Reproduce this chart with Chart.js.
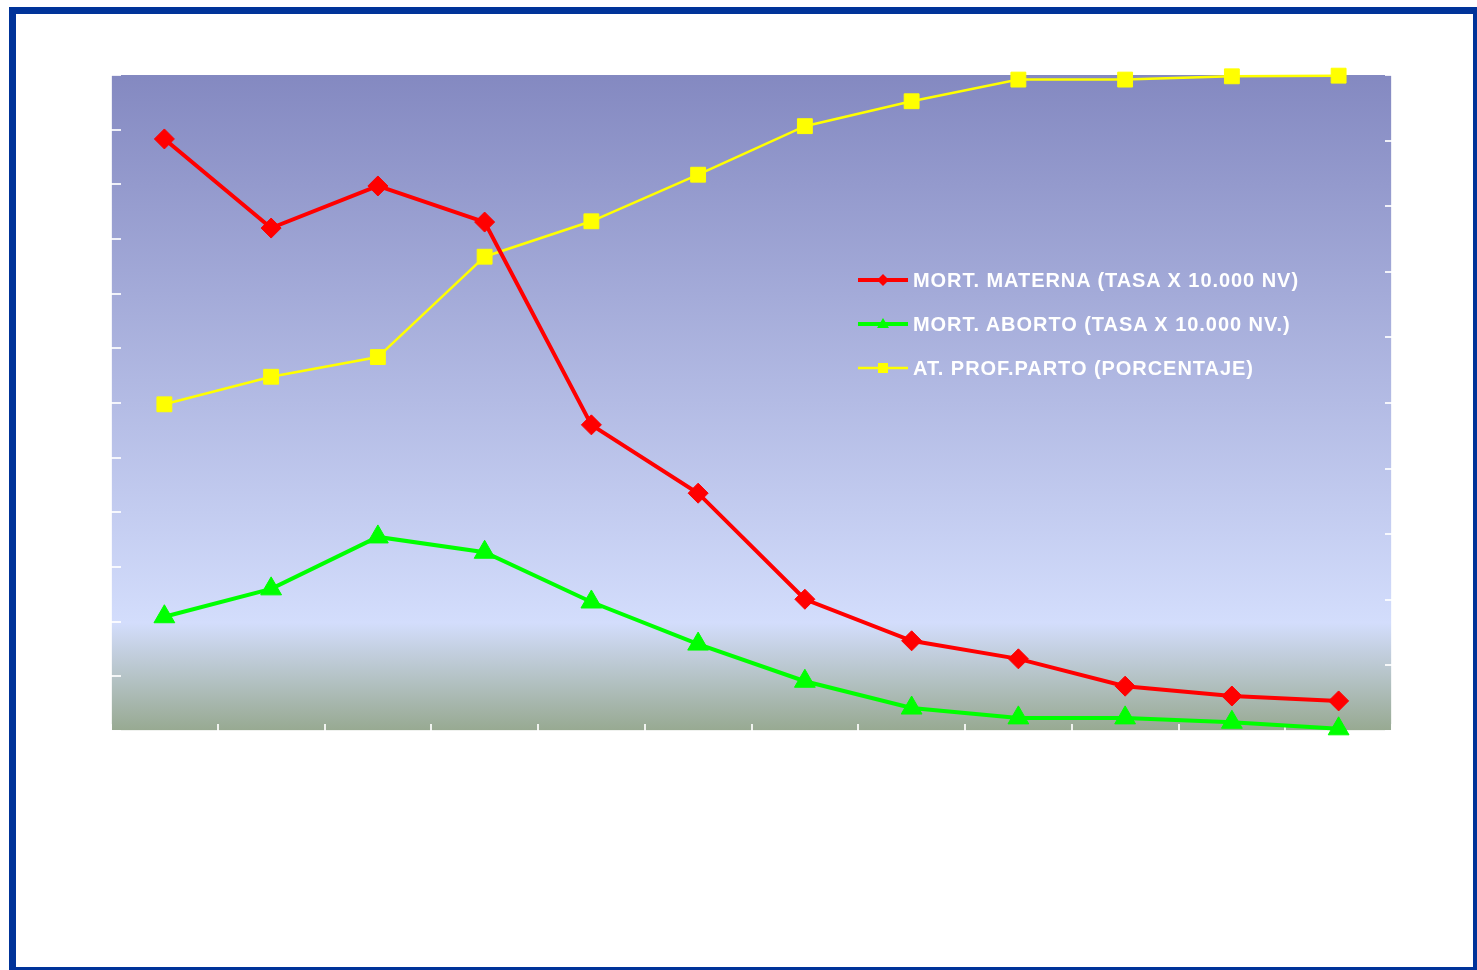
<!DOCTYPE html>
<html>
<head>
<meta charset="utf-8">
<script src="https://cdn.jsdelivr.net/npm/chart.js@4.4.1/dist/chart.umd.min.js"></script>
<style>
  html, body { margin: 0; padding: 0; background: #fff; }
  #wrap { position: relative; width: 1477px; height: 970px; overflow: hidden; }
  #frame {
    position: absolute; left: 9px; top: 7px; width: 1457px; height: 953px;
    border-style: solid; border-color: #003399;
    border-width: 7px 4px 3px 7px; pointer-events: none;
  }
  #legend {
    position: absolute; left: 858px; top: 258px;
    font-family: "Liberation Sans", Arial, sans-serif; font-weight: bold;
    font-size: 20px; letter-spacing: 0.95px; color: #fff;
  }
  .row { display: flex; align-items: center; height: 44px; }
  .row svg { margin-right: 5px; flex: none; }
</style>
</head>
<body>
<div id="wrap">
  <canvas id="chart" width="1477" height="970"></canvas>
  <div id="legend"></div>
  <div id="frame"></div>
</div>
<script>
// twelve periods, no labels visible on the axis
const periods = ['1', '2', '3', '4', '5', '6', '7', '8', '9', '10', '11', '12'];

// left axis (tasa x 10.000 NV)
const mortMaterna = [108.3, 92.0, 99.7, 93.1, 56.0, 43.5, 24.1, 16.5, 13.2, 8.2, 6.4, 5.5];
const mortAborto = [20.9, 26.0, 35.5, 32.7, 23.6, 15.9, 9.1, 4.2, 2.4, 2.4, 1.6, 0.4];

// right axis (porcentaje)
const atProfParto = [49.8, 54.0, 57.0, 72.3, 77.7, 84.8, 92.2, 96.0, 99.3, 99.3, 99.8, 99.9];

const leftTicks = { min: 0, max: 120, step: 10 };
const rightTicks = { min: 0, max: 100, step: 10 };

const plotBackground = {
    id: 'plotBackground',
    beforeDraw(chart) {
        const { ctx, chartArea: a } = chart;
        const g = ctx.createLinearGradient(0, a.top, 0, a.bottom);
        g.addColorStop(0, '#8489c1');
        g.addColorStop(0.835, '#d3ddfc');
        g.addColorStop(1, '#97a991');
        ctx.save();
        ctx.fillStyle = g;
        ctx.fillRect(a.left, a.top, a.right - a.left, a.bottom - a.top);
        ctx.restore();
    }
};

const axisColor = 'rgba(255,255,255,0.85)';

const chart = new Chart(document.getElementById('chart'), {
    type: 'line',
    data: {
        labels: periods,
        datasets: [{
            label: 'MORT. MATERNA (TASA X 10.000 NV)',
            data: mortMaterna,
            yAxisID: 'y',
            borderColor: '#ff0000',
            backgroundColor: '#ff0000',
            borderWidth: 4,
            pointStyle: 'rectRot',
            pointRadius: 10,
            pointBorderWidth: 1,
            clip: false
        }, {
            label: 'MORT. ABORTO (TASA X 10.000 NV.)',
            data: mortAborto,
            yAxisID: 'y',
            borderColor: '#00ff00',
            backgroundColor: '#00ff00',
            borderWidth: 4,
            pointStyle: 'triangle',
            pointRadius: 12,
            pointBorderWidth: 1,
            clip: false
        }, {
            label: 'AT. PROF.PARTO (PORCENTAJE)',
            data: atProfParto,
            yAxisID: 'y1',
            borderColor: '#ffff00',
            backgroundColor: '#ffff00',
            borderWidth: 2.5,
            pointStyle: 'rect',
            pointRadius: 10.5,
            pointBorderWidth: 1,
            clip: false
        }]
    },
    options: {
        responsive: false,
        animation: false,
        layout: { padding: { left: 111, right: 85, top: 75, bottom: 239 } },
        plugins: {
            legend: { display: false },
            tooltip: { enabled: false }
        },
        elements: { line: { tension: 0 } },
        scales: {
            x: {
                offset: true,
                grid: { offset: true, drawOnChartArea: false, color: axisColor, lineWidth: 2, tickLength: -7 },
                border: { color: axisColor, width: 2 },
                ticks: { display: false },
                afterFit: s => { s.height = 0; }
            },
            y: {
                position: 'left',
                min: leftTicks.min, max: leftTicks.max,
                ticks: { display: false, stepSize: leftTicks.step },
                grid: { drawOnChartArea: false, color: axisColor, lineWidth: 2, tickLength: -10 },
                border: { color: axisColor, width: 2 },
                afterFit: s => { s.width = 0; }
            },
            y1: {
                position: 'right',
                min: rightTicks.min, max: rightTicks.max,
                ticks: { display: false, stepSize: rightTicks.step },
                grid: { drawOnChartArea: false, color: axisColor, lineWidth: 2, tickLength: -7 },
                border: { color: axisColor, width: 2 },
                afterFit: s => { s.width = 0; }
            }
        }
    },
    plugins: [plotBackground]
});

// legend in html, built from the datasets
function markerSvg(ds) {
    const c = ds.borderColor;
    let m = '';
    if (ds.pointStyle === 'rectRot') m = `<polygon points="25,1 31,7 25,13 19,7" fill="${c}"/>`;
    if (ds.pointStyle === 'triangle') m = `<polygon points="25,1 31,11 19,11" fill="${c}"/>`;
    if (ds.pointStyle === 'rect') m = `<rect x="20" y="2" width="10" height="10" fill="${c}"/>`;
    return `<svg width="50" height="14"><line x1="0" y1="7" x2="50" y2="7" stroke="${c}" stroke-width="${ds.borderWidth}" stroke-linecap="round"/>${m}</svg>`;
}

const legendEl = document.getElementById('legend');
chart.data.datasets.forEach(ds => {
    const row = document.createElement('div');
    row.className = 'row';
    row.innerHTML = markerSvg(ds) + '<span>' + ds.label + '</span>';
    legendEl.appendChild(row);
});
</script>
</body>
</html>
